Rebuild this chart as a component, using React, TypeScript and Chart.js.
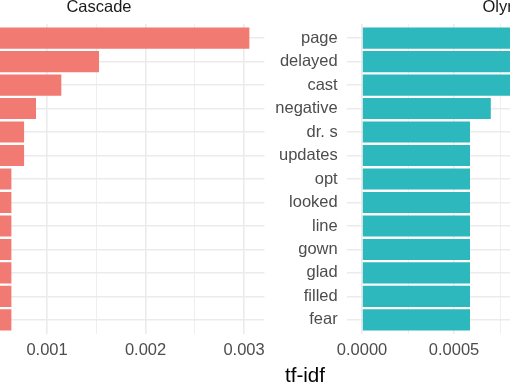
import React, { useEffect, useRef } from "react";
import { Chart, registerables } from "chart.js";

Chart.register(...registerables);

// ---- data ----
const cascadeTitle = "Cascade";
const cascadeWords = ["w1", "w2", "w3", "w4", "w5", "w6", "w7", "w8", "w9", "w10", "w11", "w12", "w13"];
const cascadeValues = [0.003054, 0.001528, 0.001145, 0.000888, 0.000767, 0.000767, 0.000638, 0.000638, 0.000638, 0.000638, 0.000638, 0.000638, 0.000638];
const cascadeTicks = [0, 0.0005, 0.001, 0.0015, 0.002, 0.0025, 0.003];
const cascadeMajor = [0, 0.001, 0.002, 0.003];

const olyTitle = "Olympus";
const olyWords = ["page", "delayed", "cast", "negative", "dr. s", "updates", "opt", "looked", "line", "gown", "glad", "filled", "fear"];
const olyValues = [0.001663, 0.00132, 0.00117, 0.0007, 0.000587, 0.000587, 0.000587, 0.000587, 0.000587, 0.000587, 0.000587, 0.000587, 0.000587];
const olyTicks = [0, 0.00025, 0.0005, 0.00075, 0.001, 0.00125, 0.0015];
const olyMajor = [0, 0.0005, 0.001, 0.0015];

const xTitle = "tf-idf";

const FONT = "'Liberation Sans', Arial, Helvetica, sans-serif";

function makeConfig(
  title: string,
  words: string[],
  values: number[],
  ticks: number[],
  major: number[],
  decimals: number,
  color: string,
  showY: boolean,
  yWidth: number,
  padding: { left: number; right: number }
): any {
  const maxV = Math.max(...values);
  const isMajor = (v: number) => major.some((m) => Math.abs(m - v) < 1e-10);
  return {
    type: "bar",
    data: {
      datasets: [
        {
          data: values.map((v, i) => ({ x: v, y: i })),
          backgroundColor: color,
          borderWidth: 0,
          barPercentage: 0.9,
          categoryPercentage: 1,
        },
      ],
    },
    options: {
      animation: false,
      responsive: false,
      indexAxis: "y",
      layout: { padding: { left: padding.left, right: padding.right, top: 0, bottom: 0 } },
      plugins: {
        legend: { display: false },
        tooltip: { enabled: false },
        title: {
          display: true,
          text: title,
          fullSize: false,
          color: "#1A1A1A",
          font: { family: FONT, size: 16.5, weight: "normal", lineHeight: "14px" },
          padding: { top: 0, bottom: 10 },
        },
      },
      scales: {
        x: {
          type: "linear",
          offset: false,
          min: -maxV * 0.05,
          max: maxV * 1.05,
          afterBuildTicks: (scale: any) => {
            scale.ticks = ticks.map((v) => ({ value: v }));
          },
          afterFit: (scale: any) => {
            scale.height = 48;
          },
          border: { display: false },
          grid: {
            offset: false,
            color: "#EBEBEB",
            drawTicks: false,
            lineWidth: (ctx: any) => (ctx.tick && isMajor(ctx.tick.value) ? 1.6 : 0.8),
          },
          ticks: {
            autoSkip: false,
            maxRotation: 0,
            padding: 7,
            color: "#4D4D4D",
            font: { family: FONT, size: 16.5 },
            callback: (v: any) => (isMajor(Number(v)) ? Number(v).toFixed(decimals) : ""),
          },
        },
        y: {
          type: "linear",
          offset: false,
          reverse: true,
          min: -0.6,
          max: words.length - 1 + 0.6,
          afterBuildTicks: (scale: any) => {
            scale.ticks = words.map((_, i) => ({ value: i }));
          },
          afterFit: (scale: any) => {
            scale.width = yWidth;
          },
          border: { display: false },
          grid: { offset: false, color: "#EBEBEB", drawTicks: false, lineWidth: 1.6 },
          ticks: {
            display: showY,
            autoSkip: false,
            padding: 9,
            color: "#4D4D4D",
            font: { family: FONT, size: 16.5 },
            callback: (v: any) => words[Math.round(Number(v))] ?? "",
          },
        },
      },
    },
  };
}

export default function App() {
  const leftRef = useRef<HTMLCanvasElement>(null);
  const rightRef = useRef<HTMLCanvasElement>(null);

  useEffect(() => {
    const left = new Chart(
      leftRef.current!,
      makeConfig(cascadeTitle, cascadeWords, cascadeValues, cascadeTicks, cascadeMajor, 3, "#F17A72", false, 0, {
        left: 83.5,
        right: 39.6,
      })
    );
    const right = new Chart(
      rightRef.current!,
      makeConfig(olyTitle, olyWords, olyValues, olyTicks, olyMajor, 4, "#2CB8BD", true, 76.7, {
        left: 0,
        right: 31.7,
      })
    );
    return () => {
      left.destroy();
      right.destroy();
    };
  }, []);

  return (
    <div
      style={{
        position: "fixed",
        left: 0,
        top: 0,
        width: 510,
        height: 382,
        overflow: "hidden",
        background: "#FFFFFF",
      }}
    >
      <canvas
        ref={leftRef}
        width={454}
        height={382}
        style={{ position: "absolute", left: -150, top: 0, width: 454, height: 382 }}
      />
      <canvas
        ref={rightRef}
        width={445}
        height={382}
        style={{ position: "absolute", left: 270, top: 0, width: 445, height: 382 }}
      />
      <div
        style={{
          position: "absolute",
          left: 205,
          width: 200,
          top: 364.6,
          textAlign: "center",
          fontFamily: FONT,
          fontSize: 20.6,
          lineHeight: "20.6px",
          color: "#000000",
          whiteSpace: "nowrap",
        }}
      >
        {xTitle}
      </div>
    </div>
  );
}
